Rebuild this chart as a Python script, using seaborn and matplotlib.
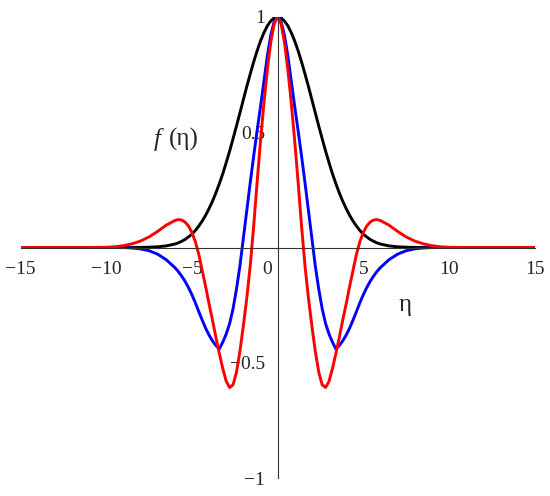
import numpy as np
import pandas as pd
import matplotlib
matplotlib.use("Agg")
import matplotlib.pyplot as plt
import matplotlib.transforms as mtransforms
import seaborn as sns

# values
eta = [-15, -12, -11, -10, -9.5, -9, -8.5, -8, -7.5, -7, -6.5,
       -6, -5.8, -5.6, -5.4, -5.2, -5, -4.8, -4.6, -4.4, -4.2, -4, -3.8, -3.6, -3.4, -3.2,
       -3, -2.8, -2.6, -2.4, -2.2, -2, -1.8, -1.6, -1.4, -1.2, -1, -0.8, -0.6, -0.4, -0.2,
       0,
       0.2, 0.4, 0.6, 0.8, 1, 1.2, 1.4, 1.6, 1.8, 2, 2.2, 2.4, 2.6, 2.8, 3,
       3.2, 3.4, 3.6, 3.8, 4, 4.2, 4.4, 4.6, 4.8, 5, 5.2, 5.4, 5.6, 5.8, 6,
       6.5, 7, 7.5, 8, 8.5, 9, 9.5, 10, 11, 12, 15]

f_black = [0, 0, 0, 0, 0, 0, 0.0002, 0.0005, 0.0013, 0.003, 0.007,
           0.015, 0.02, 0.027, 0.035, 0.046, 0.058, 0.074, 0.093, 0.115, 0.14, 0.169, 0.201, 0.237, 0.277, 0.32,
           0.368, 0.418, 0.472, 0.527, 0.584, 0.641, 0.698, 0.752, 0.804, 0.852, 0.895, 0.931, 0.961, 0.982, 0.996,
           1,
           0.996, 0.982, 0.961, 0.931, 0.895, 0.852, 0.804, 0.752, 0.698, 0.641, 0.584, 0.527, 0.472, 0.418, 0.368,
           0.32, 0.277, 0.237, 0.201, 0.169, 0.14, 0.115, 0.093, 0.074, 0.058, 0.046, 0.035, 0.027, 0.02, 0.015,
           0.007, 0.003, 0.0013, 0.0005, 0.0002, 0, 0, 0, 0, 0, 0]

f_blue = [0, 0, 0, 0, 0, 0, -0.002, -0.006, -0.014, -0.029, -0.053,
          -0.087, -0.104, -0.124, -0.147, -0.174, -0.205, -0.24, -0.278, -0.315, -0.35, -0.38, -0.405, -0.425, -0.44, -0.41,
          -0.375, -0.33, -0.265, -0.18, -0.08, 0.04, 0.16, 0.28, 0.395, 0.505, 0.61, 0.72, 0.83, 0.92, 0.98,
          1,
          0.98, 0.92, 0.83, 0.72, 0.61, 0.505, 0.395, 0.28, 0.16, 0.04, -0.08, -0.18, -0.265, -0.33, -0.375,
          -0.41, -0.44, -0.425, -0.405, -0.38, -0.35, -0.315, -0.278, -0.24, -0.205, -0.174, -0.147, -0.124, -0.104, -0.087,
          -0.053, -0.029, -0.014, -0.006, -0.002, 0, 0, 0, 0, 0, 0]

f_red = [0, 0, 0, 0.001, 0.003, 0.008, 0.016, 0.028, 0.046, 0.07, 0.097,
         0.117, 0.121, 0.119, 0.11, 0.093, 0.065, 0.025, -0.03, -0.1, -0.17, -0.245, -0.315, -0.39, -0.46, -0.525,
         -0.58, -0.607, -0.595, -0.54, -0.45, -0.34, -0.22, -0.08, 0.09, 0.28, 0.46, 0.625, 0.77, 0.89, 0.97,
         1,
         0.97, 0.89, 0.77, 0.625, 0.46, 0.28, 0.09, -0.08, -0.22, -0.34, -0.45, -0.54, -0.595, -0.607, -0.58,
         -0.525, -0.46, -0.39, -0.315, -0.245, -0.17, -0.1, -0.03, 0.025, 0.065, 0.093, 0.11, 0.119, 0.121, 0.117,
         0.097, 0.07, 0.046, 0.028, 0.016, 0.008, 0.003, 0.001, 0, 0, 0]

x_ticks = [-15, -10, -5, 0, 5, 10, 15]
x_tick_labels = ["\u221215", "\u221210", "\u22125", "0", "5", "10", "15"]
y_ticks = [-1, -0.5, 0.5, 1]
y_tick_labels = ["\u22121", "\u22120.5", "0.5", "1"]

df = pd.DataFrame({
    "eta": eta * 3,
    "f": f_black + f_blue + f_red,
    "curve": ["black"] * len(eta) + ["blue"] * len(eta) + ["red"] * len(eta),
})

sns.set_style("white")
plt.rcParams["font.family"] = ["Liberation Serif", "DejaVu Serif"]

fig = plt.figure(figsize=(5.5, 4.96), dpi=100)
ax = fig.add_axes([0.0375, 0.036, 0.9345, 0.93])

sns.lineplot(data=df, x="eta", y="f", hue="curve", sort=False, estimator=None,
             palette={"black": "black", "blue": "#0000ff", "red": "#ff0000"},
             linewidth=2.1, legend=False, ax=ax)

ax.set_xlim(-15, 15)
ax.set_ylim(-1, 1)

# axes through the origin
ax.spines["left"].set_position(("data", 0))
ax.spines["bottom"].set_position(("data", 0))
ax.spines["right"].set_visible(False)
ax.spines["top"].set_visible(False)
for s in ["left", "bottom"]:
    ax.spines[s].set_linewidth(0.8)
    ax.spines[s].set_color("#333333")

ax.set_xticks(x_ticks)
ax.set_xticklabels(x_tick_labels, fontsize=14)
ax.set_xticks(np.arange(-15, 16, 1), minor=True)
ax.set_yticks(y_ticks)
ax.set_yticklabels(y_tick_labels, fontsize=14)
ax.set_yticks(np.arange(-1, 1.01, 0.1), minor=True)

ax.tick_params(axis="x", which="major", direction="out", length=6, width=0.8, pad=4, color="#333333")
ax.tick_params(axis="x", which="minor", direction="out", length=3, width=0.8, color="#333333")
ax.tick_params(axis="y", which="major", direction="in", length=6, width=0.8, pad=9, color="#333333")
ax.tick_params(axis="y", which="minor", direction="in", length=3, width=0.8, color="#333333")
shift = mtransforms.ScaledTranslation(-6 / 100, 0, fig.dpi_scale_trans)
for lab in ax.get_xticklabels():
    if lab.get_text() == "0":
        lab.set_horizontalalignment("right")
        lab.set_transform(lab.get_transform() + shift)

ax.set_xlabel("")
ax.set_ylabel("")
ax.text(7.45, -0.25, "\u03b7", fontsize=18, ha="center", va="center")
ax.text(-7.05, 0.47, "f", fontsize=18, style="italic", ha="center", va="center")
ax.text(-5.45, 0.47, "(\u03b7)", fontsize=18, ha="center", va="center")

fig.savefig("out.png", dpi=100)
